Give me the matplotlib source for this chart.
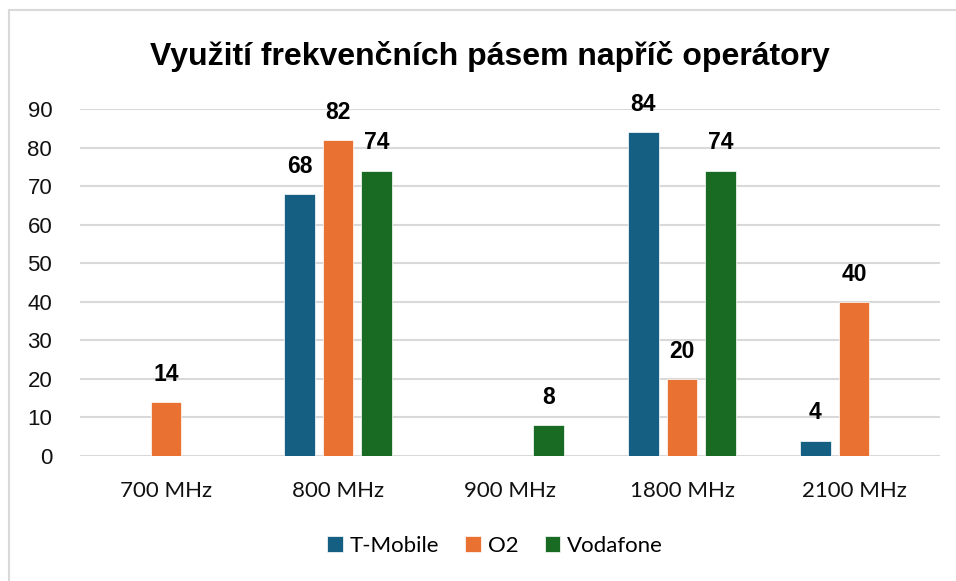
import matplotlib
matplotlib.use("Agg")
import matplotlib.pyplot as plt
import numpy as np
from matplotlib.patches import Rectangle

bands = ["700 MHz", "800 MHz", "900 MHz", "1800 MHz", "2100 MHz"]
operators = ["T-Mobile", "O2", "Vodafone"]
t_mobile = [0, 68, 0, 84, 4]
o2 = [14, 82, 0, 20, 40]
vodafone = [0, 74, 8, 74, 0]
colors = ["#156082", "#E97132", "#196B24"]

fig = plt.figure(figsize=(9.56, 5.81), dpi=100)
ax = fig.add_axes([80 / 956, 1 - 456 / 581, 860 / 956, 347 / 581])

# light frame around the chart, as in the office export
fig.patches.append(Rectangle((9 / 956, -0.1), 1.2, 1 - 10 / 581 + 0.1,
                             transform=fig.transFigure, fill=False,
                             edgecolor="#d9d9d9", linewidth=1.5))

x = np.arange(len(bands))
step = 0.224
width = 0.176
for i, (vals, name) in enumerate(zip([t_mobile, o2, vodafone], operators)):
    pos = x + (i - 1) * step
    ax.bar(pos, vals, width, color=colors[i], label=name, zorder=3,
           edgecolor="white", linewidth=0.5)
    for px, v in zip(pos, vals):
        if v == 0:
            continue
        ax.annotate(str(v), (px, v), xytext=(0, 20), textcoords="offset points",
                    ha="center", va="center", fontsize=16.5, fontweight="bold",
                    family="Liberation Sans")

ax.set_xlim(-0.5, len(bands) - 0.5)
ax.set_ylim(0, 90)
ax.set_yticks(range(0, 91, 10))
ax.set_xticks(x)
ax.set_xticklabels(bands, fontsize=16, family="Lato")
for lab in ax.get_yticklabels():
    lab.set_fontsize(16)
    lab.set_family("Liberation Sans")
ax.tick_params(axis="both", length=0, colors="#111111")
ax.tick_params(axis="y", pad=20)
ax.tick_params(axis="x", pad=18)
ax.grid(axis="y", color="#d9d9d9", linewidth=1.5, zorder=0)
for s in ax.spines.values():
    s.set_visible(False)

fig.text(490 / 956, 1 - 57 / 581, "Využití frekvenčních pásem napříč operátory",
         ha="center", va="center", fontsize=23, fontweight="bold",
         family="Liberation Sans")

leg = fig.legend(loc="center", bbox_to_anchor=(495 / 956, 1 - 546 / 581), ncol=3,
                 frameon=False, prop={"family": "Lato", "size": 16},
                 handlelength=0.7, handleheight=0.7, handletextpad=0.3,
                 columnspacing=1.2)

fig.savefig("out.png", dpi=100)
